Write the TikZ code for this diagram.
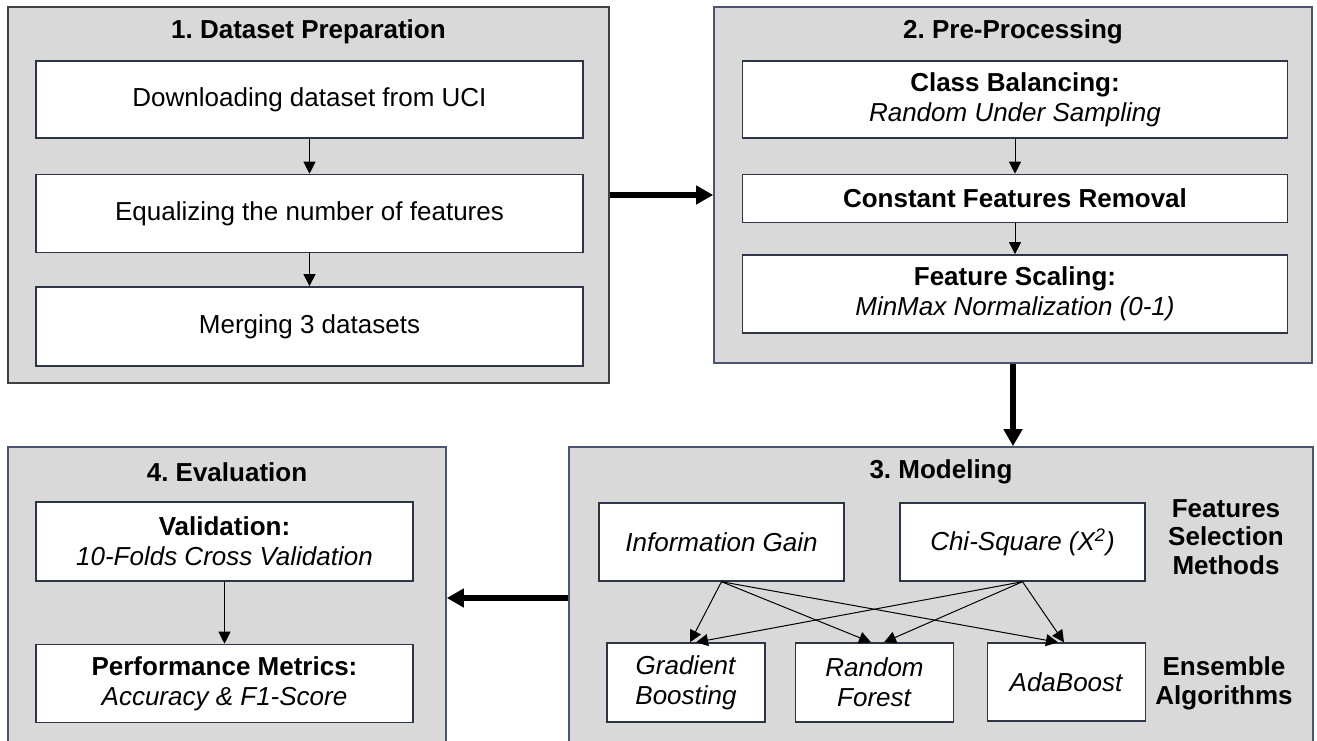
\documentclass[tikz,border=0pt]{standalone}
\usepackage{fontspec}
\setmainfont{Liberation Sans}
\usetikzlibrary{arrows.meta,positioning,calc}

\definecolor{panelgray}{HTML}{D9D9D9}
\definecolor{panelline}{HTML}{4A5670}
\definecolor{boxline}{HTML}{2E3546}

\begin{document}
\frenchspacing
\begin{tikzpicture}[
    x=0.5pt, y=-0.5pt,
    font=\fontsize{13pt}{15pt}\selectfont,
    panel/.style={
        draw=panelline,
        fill=panelgray,
        line width=0.8pt,
        inner sep=0pt
    },
    box/.style={
        draw=boxline,
        fill=white,
        line width=0.7pt,
        inner sep=2pt,
        minimum width=273.5pt,
        minimum height=38.5pt,
        align=center
    },
    head/.style={font=\fontsize{13pt}{15pt}\selectfont\bfseries},
    side/.style={font=\fontsize{13pt}{14.2pt}\selectfont\bfseries, align=center},
    arrow/.style={-{Triangle[length=6pt, width=6pt]}, line width=0.5pt},
    bigarrow/.style={-{Triangle[length=8.5pt, width=9pt]}, line width=3pt}
]
\useasboundingbox (0,0) rectangle (1317,740);
\clip (0,0) rectangle (1317,740);

% panels
\node[panel, draw=black!75, minimum width=300.5pt, minimum height=188pt] (p1) at (308.5,195) {};
\node[panel, minimum width=299pt, minimum height=178pt] (p2) at (1013,185) {};
\node[panel, minimum width=372pt, minimum height=151pt] (p3) at (941,598) {};
\node[panel, minimum width=219pt, minimum height=151pt] (p4) at (227,598) {};

% 1. dataset preparation
\node[head] (t1) at (308.5,32) {1. Dataset Preparation};
\node[box] (load) at (309.5,99.5) {Downloading dataset from UCI};
\node[box, minimum height=39pt, below=17.5pt of load] (equal) {Equalizing the number of features};
\node[box, minimum height=39.5pt, below=16.5pt of equal] (merge) {Merging 3 datasets};

\draw[arrow] (load) -- (equal);
\draw[arrow] (equal) -- (merge);

% 2. pre-processing
\node[head] (t2) at (1013,32) {2. Pre-Processing};
\node[box, minimum width=272.5pt] (bal) at (1015,99.5) {\textbf{Class Balancing:}\\\textit{Random Under Sampling}};
\node[box, minimum width=272.5pt, minimum height=24pt, below=17.5pt of bal] (const) {\textbf{Constant Features Removal}};
\node[box, minimum width=272.5pt, minimum height=39pt, below=15.5pt of const] (scale) {\textbf{Feature Scaling:}\\\textit{MinMax Normalization (0-1)}};

\draw[arrow] (bal) -- (const);
\draw[arrow] (const) -- (scale);

% 3. modeling
\node[head] (t3) at (941,472) {3. Modeling};
\node[box, minimum width=122.5pt, minimum height=39pt] (ig) at (721.5,542) {\textit{Information Gain}};
\node[box, minimum width=122.5pt, minimum height=39pt] (chi) at (1022.5,542) {\textit{Chi-Square (X\textsuperscript{2})}};
\node[box, minimum width=79pt, minimum height=39.5pt] (gb) at (686,682.5) {\textit{Gradient}\\\textit{Boosting}};
\node[box, minimum width=79pt, minimum height=39.5pt] (rf) at (874.5,682.5) {\textit{Random}\\\textit{Forest}};
\node[box, minimum width=79pt, minimum height=39pt] (ada) at (1066.5,682) {\textit{AdaBoost}};
\node[side] (fsm) at (1226,537) {Features\\Selection\\Methods};
\node[side] (ens) at (1224,683.5) {Ensemble\\Algorithms};

\draw[arrow] (ig.south) -- ($(gb.north)+(4,0)$);
\draw[arrow] (ig.south) -- ($(rf.north)+(-3.5,0)$);
\draw[arrow] (ig.south) -- ($(ada.north)+(-8.5,0)$);
\draw[arrow] (chi.south) -- ($(gb.north)+(10,0)$);
\draw[arrow] (chi.south) -- ($(rf.north)+(9.5,0)$);
\draw[arrow] (chi.south) -- ($(ada.north)+(-2.5,0)$);

% 4. evaluation
\node[head] (t4) at (227,472) {4. Evaluation};
\node[box, minimum width=188.5pt, minimum height=39.5pt] (valid) at (224.5,541.5) {\textbf{Validation:}\\\textit{10-Folds Cross Validation}};
\node[box, minimum width=188.5pt, minimum height=39pt, below=31pt of valid] (perf) {\textbf{Performance Metrics:}\\\textit{Accuracy \& F1-Score}};

\draw[arrow] (valid) -- (perf);

% flow between stages
\draw[bigarrow] (p1.east) -- (p2.west |- p1.east);
\draw[bigarrow] (p2.south) -- (p2.south |- p3.north);
\draw[bigarrow] (p3.west) -- (p3.west -| p4.east);
\end{tikzpicture}
\end{document}
